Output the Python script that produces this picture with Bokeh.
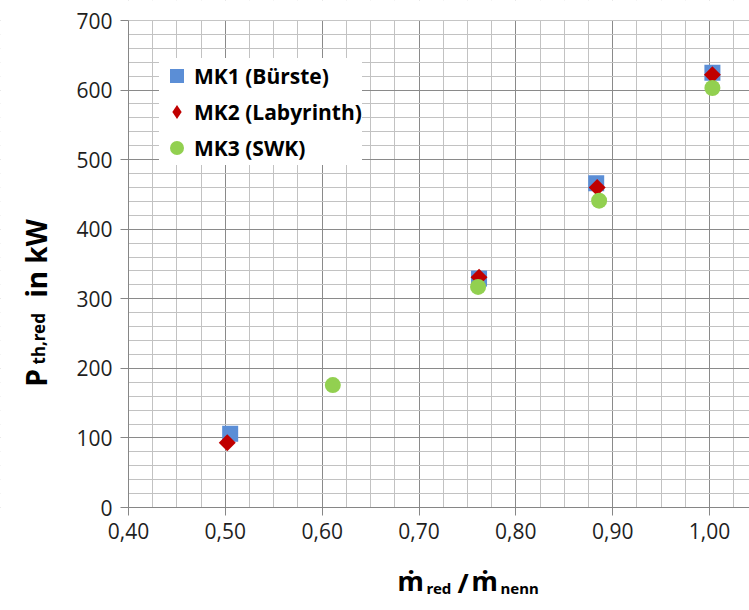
from math import pi

from bokeh.embed import file_html
from bokeh.models import BoxAnnotation, FixedTicker, Label, Legend, LegendItem, Range1d
from bokeh.plotting import figure
from bokeh.resources import INLINE

# --- data -----------------------------------------------------------------
mk1_x = [0.505, 0.762, 0.883, 1.003]
mk1_y = [106, 329, 466, 625]

mk2_x = [0.502, 0.762, 0.884, 1.003]
mk2_y = [93, 331, 460, 622]

mk3_x = [0.611, 0.761, 0.886, 1.003]
mk3_y = [176, 317, 441, 603]

series_names = ["MK1 (Bürste)", "MK2 (Labyrinth)", "MK3 (SWK)"]
series_colors = ["#5b8ed6", "#c00000", "#92d050"]

x_ticks = [0.40, 0.50, 0.60, 0.70, 0.80, 0.90, 1.00]
x_tick_labels = ["0,40", "0,50", "0,60", "0,70", "0,80", "0,90", "1,00"]
y_ticks = [0, 100, 200, 300, 400, 500, 600, 700]

# --- geometry -------------------------------------------------------------
# The frame fills the whole canvas; the axes sit at fixed data locations so
# that the titles and tick labels around the plot area stay inside the frame.
W, H = 749, 610
AX_LEFT, AX_TOP, AX_BOTTOM = 128, 20, 507      # pixel edges of the plot area
X_MIN, X_MAX = 0.40, 1.00                      # values at AX_LEFT / 1,00 tick
X_MAX_PX = 709
Y_MIN, Y_MAX = 0, 700

kx = (X_MAX_PX - AX_LEFT) / (X_MAX - X_MIN)
ky = (AX_BOTTOM - AX_TOP) / (Y_MAX - Y_MIN)
x_start = X_MIN - AX_LEFT / kx
x_end = X_MIN + (W - AX_LEFT) / kx
y_start = Y_MIN - (H - AX_BOTTOM) / ky
y_end = Y_MAX + AX_TOP / ky

p = figure(
    width=W, height=H,
    x_range=Range1d(x_start, x_end), y_range=Range1d(y_start, y_end),
    output_backend="svg", toolbar_location=None,
    min_border=0, min_border_left=0, min_border_right=0,
    min_border_top=0, min_border_bottom=0,
    background_fill_color="white", border_fill_color="white",
)
p.outline_line_color = None

# --- grid -----------------------------------------------------------------
x_minor = [round(0.40 + 0.025 * i, 3) for i in range(27)]
x_minor = [v for v in x_minor if round(v * 10, 3) != round(v * 10)]
y_minor = [20 * i for i in range(36) if (20 * i) % 100 != 0]

x_ticker = FixedTicker(ticks=x_ticks, minor_ticks=x_minor)
y_ticker = FixedTicker(ticks=y_ticks, minor_ticks=y_minor)
p.xgrid.ticker = x_ticker
p.ygrid.ticker = y_ticker
for g in (p.xgrid, p.ygrid):
    g.grid_line_color = "#8a8a8a"
    g.grid_line_width = 1
    g.minor_grid_line_color = "#c2c2c2"
    g.minor_grid_line_width = 1

# white margins outside the plot area (drawn over the grid, under the axes)
for kw in (dict(right=X_MIN), dict(top=Y_MIN), dict(bottom=Y_MAX)):
    p.add_layout(BoxAnnotation(fill_color="white", fill_alpha=1.0,
                               line_color=None, level="underlay", **kw))

# --- axes -----------------------------------------------------------------
p.xaxis.ticker = x_ticker
p.yaxis.ticker = y_ticker
p.xaxis.fixed_location = Y_MIN
p.yaxis.fixed_location = X_MIN
p.xaxis.bounds = (X_MIN, x_end)
p.yaxis.bounds = (Y_MIN, Y_MAX)
p.xaxis.major_label_overrides = {t: s for t, s in zip(x_ticks, x_tick_labels)}

for ax in (p.xaxis, p.yaxis):
    ax.axis_line_color = "#868686"
    ax.axis_line_width = 1
    ax.major_tick_line_color = "#868686"
    ax.major_tick_out = 8
    ax.major_tick_in = 0
    ax.minor_tick_out = 0
    ax.minor_tick_in = 0
    ax.major_label_text_font = "Open Sans"
    ax.major_label_text_font_size = "21px"
    ax.major_label_text_color = "#1e1e1e"
p.xaxis.major_label_standoff = 7
p.yaxis.major_label_standoff = 8

# --- markers --------------------------------------------------------------
# diamond key for the legend, sitting underneath the rotated-square markers
r2_key = p.scatter(mk2_x, mk2_y, marker="diamond", size=14,
                   fill_color=series_colors[1], line_color=None)
r1 = p.scatter(mk1_x, mk1_y, marker="square", size=16,
               fill_color=series_colors[0], line_color=None)
r2 = p.scatter(mk2_x, mk2_y, marker="square", angle=pi / 4, size=12,
               fill_color=series_colors[1], line_color=None)
r3 = p.scatter(mk3_x, mk3_y, marker="circle", size=16,
               fill_color=series_colors[2], line_color=None)

legend = Legend(
    items=[
        LegendItem(label=series_names[0], renderers=[r1]),
        LegendItem(label=series_names[1], renderers=[r2_key]),
        LegendItem(label=series_names[2], renderers=[r3]),
    ],
    location=(159, H - 165),
    glyph_width=35, glyph_height=35, label_standoff=-4,
    spacing=1, padding=6, margin=0,
    border_line_color=None,
    background_fill_color="white", background_fill_alpha=1.0,
    label_text_font="Open Sans", label_text_font_style="bold",
    label_text_font_size="21px", label_text_color="black",
)
p.add_layout(legend)


# --- axis titles (with subscripts) ---------------------------------------
def put(text, cx, cy, size, angle=0.0):
    """Bold text with its baseline start at pixel (cx, cy), origin top-left."""
    p.add_layout(Label(
        x=cx, y=H - cy, x_units="screen", y_units="screen",
        text=text, angle=angle, text_font="Noto Sans", text_font_style="bold",
        text_font_size=f"{size}px", text_color="black",
        text_align="left", text_baseline="alphabetic",
    ))


# x title: m-dot_red / m-dot_nenn
put("ṁ", 397, 580, 27)
put("red", 426, 587, 15)
put("/", 457, 582, 27)
put("ṁ", 471, 580, 27)
put("nenn", 500, 587, 15)

# y title: P_th,red in kW (reads bottom to top)
put("P", 35, 386, 28, angle=pi / 2)
put("th,red", 38, 364, 17, angle=pi / 2)
put("in kW", 35, 297, 28, angle=pi / 2)

open("out.html", "w").write(file_html(p, INLINE))
